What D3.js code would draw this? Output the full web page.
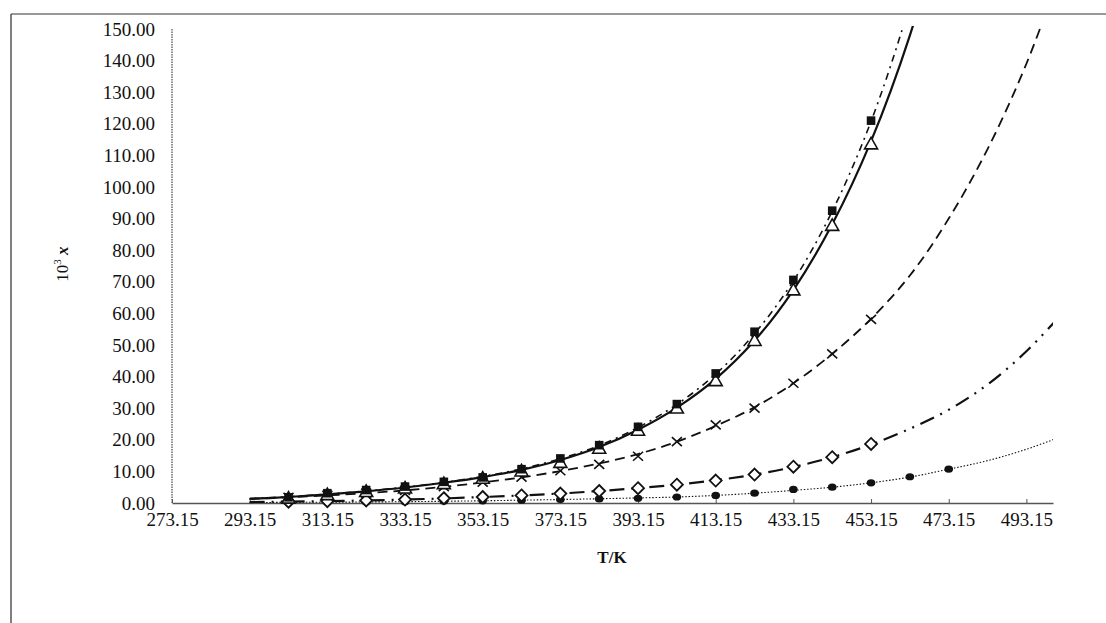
<!DOCTYPE html>
<html><head><meta charset="utf-8">
<script src="https://cdn.jsdelivr.net/npm/d3@7"></script>
<style>body{margin:0;background:#fff}svg{display:block}text{font-family:"Liberation Serif","Times New Roman",serif;fill:#111}</style>
</head><body><svg id="c" width="1106" height="623"></svg>
<script>
// ---- data ----
const xTicks = [273.15,293.15,313.15,333.15,353.15,373.15,393.15,413.15,433.15,453.15,473.15,493.15];
const yTicks = [0,10,20,30,40,50,60,70,80,90,100,110,120,130,140,150];

const markerT = [303.15,313.15,323.15,333.15,343.15,353.15,363.15,373.15,383.15,393.15,403.15,413.15,423.15,433.15,443.15,453.15];
const squares   = [1.8,3.1,4.1,5.2,6.7,8.1,10.7,14.1,18.3,24.1,31.3,41.0,54.2,70.6,92.5,121.0];
const triangles = [1.7,2.8,3.8,4.9,6.3,8.0,10.3,13.0,17.5,23.2,30.2,38.9,51.6,67.6,88.0,113.8];
const crosses   = [1.8,2.4,3.1,4.0,5.2,6.6,8.2,10.2,12.2,14.8,19.4,24.7,30.0,37.9,47.2,58.1];
const diamonds  = [0.4,0.6,0.8,1.1,1.5,1.9,2.4,3.0,3.8,4.7,5.8,7.1,9.0,11.5,14.5,18.7];
const circleT   = [303.15,313.15,323.15,333.15,343.15,353.15,363.15,373.15,383.15,393.15,403.15,413.15,423.15,433.15,443.15,453.15,463.15,473.15];
const circles   = [0.2,0.25,0.3,0.4,0.55,0.7,0.9,1.1,1.3,1.5,1.9,2.4,3.1,4.3,5.0,6.4,8.3,10.7];

const curveT = [293.15,303.15,313.15,323.15,333.15,343.15,353.15,363.15,373.15,383.15,393.15,403.15,413.15,423.15,433.15,443.15,453.15,463.15,473.15,483.15,493.15,503.15];
const solidFit   = [1.3,1.9,2.7,3.7,4.9,6.4,8.2,10.5,13.6,17.7,23.2,30.2,39.3,51.4,67.4,88.2,114.5,148,191];
const dashDotFit = [1.4,2.0,2.8,3.8,5.0,6.5,8.4,10.8,14.0,18.2,23.9,31.2,40.8,53.6,70.3,92.3,120.8,158,206];
const dashedFit  = [1.3,1.8,2.4,3.1,4.0,5.1,6.5,8.1,10.1,12.5,15.5,19.4,24.4,30.3,37.9,47.2,58.3,72,90,112,139,172];
const longDashFit= [0.3,0.45,0.6,0.8,1.1,1.45,1.9,2.4,3.0,3.8,4.7,5.8,7.2,9.0,11.4,14.5,18.5,23.5,29.5,37.5,48,61];
const dottedFit  = [0.15,0.2,0.25,0.32,0.42,0.55,0.7,0.9,1.1,1.35,1.6,1.9,2.4,3.1,4.0,5.0,6.4,8.2,10.7,13.4,17.0,21.5];

// ---- drawing ----
const svg = d3.select("#c");
const x = d3.scaleLinear().domain([273.15, 500]).range([172, 1053]);
const y = d3.scaleLinear().domain([0, 150]).range([503, 29]);

// outer scan frame
svg.append("line").attr("x1",11).attr("x2",1106).attr("y1",14).attr("y2",14).attr("stroke","#777").attr("stroke-width",1.5);
svg.append("line").attr("x1",11).attr("x2",11).attr("y1",14).attr("y2",623).attr("stroke","#555").attr("stroke-width",1.5);

svg.append("defs").append("clipPath").attr("id","clip").append("rect")
  .attr("x",172).attr("y",26).attr("width",881).attr("height",478);

// y axis (dotted line, labels only)
svg.append("line").attr("x1",172).attr("x2",172).attr("y1",y(150)).attr("y2",y(0))
  .attr("stroke","#444").attr("stroke-width",1.2).attr("stroke-dasharray","1.5,1");
const yAx = svg.append("g").attr("transform","translate(172,0)")
  .call(d3.axisLeft(y).tickValues(yTicks).tickFormat(d3.format(".2f")).tickSize(0).tickPadding(17));
yAx.select(".domain").remove();
yAx.selectAll("text").style("font-size","19px").style("font-family","'Liberation Serif',serif").attr("fill","#111");

// x axis
const xAx = svg.append("g").attr("transform","translate(0,503)")
  .call(d3.axisBottom(x).tickValues(xTicks).tickFormat(d=>d.toFixed(2)).tickSizeInner(-4).tickSizeOuter(0).tickPadding(10));
xAx.select(".domain").attr("stroke","#555").attr("stroke-width",1.3);
xAx.selectAll(".tick line").attr("stroke","#555");
xAx.selectAll("text").style("font-size","19px").style("font-family","'Liberation Serif',serif").attr("fill","#111");

// titles
const yt = svg.append("text").attr("transform","translate(68,264) rotate(-90)").attr("text-anchor","middle").style("font-size","17px");
yt.append("tspan").text("10");
yt.append("tspan").attr("dy",-7).style("font-size","11px").text("3");
yt.append("tspan").attr("dy",7).style("font-weight","bold").style("font-style","italic").text(" x");
svg.append("text").attr("x",612).attr("y",563).attr("text-anchor","middle").style("font-size","17px").style("font-weight","bold").text("T/K");

// curves
const g = svg.append("g").attr("clip-path","url(#clip)");
const line = d3.line().x(d=>x(d[0])).y(d=>y(d[1])).curve(d3.curveCatmullRom.alpha(0.5));
function fit(vals, dash, w){
  g.append("path").datum(vals.map((v,i)=>[curveT[i],v])).attr("d",line)
    .attr("fill","none").attr("stroke","#111").attr("stroke-width",w)
    .attr("stroke-dasharray",dash);
}
fit(dottedFit,"1.5,1.8",1.1);
fit(longDashFit,"15,7,2,7,2,7",2.2);
fit(dashedFit,"10,6",1.8);
fit(dashDotFit,"7,5,2,5",1.6);
fit(solidFit,null,2.2);

// markers
const m = svg.append("g");
m.selectAll(".ci").data(circles).join("ellipse")
  .attr("cx",(d,i)=>x(circleT[i])).attr("cy",d=>y(d)).attr("rx",4.3).attr("ry",3.6).attr("fill","#111");
m.selectAll(".di").data(diamonds).join("path")
  .attr("transform",(d,i)=>`translate(${x(markerT[i])},${y(d)})`)
  .attr("d","M0,-6L6,0L0,6L-6,0Z").attr("fill","#fff").attr("stroke","#111").attr("stroke-width",1.8);
m.selectAll(".cr").data(crosses).join("path")
  .attr("transform",(d,i)=>`translate(${x(markerT[i])},${y(d)})`)
  .attr("d","M-5,-4.5L5,4.5M-5,4.5L5,-4.5").attr("fill","none").attr("stroke","#111").attr("stroke-width",1.6);
m.selectAll(".tr").data(triangles).join("path")
  .attr("transform",(d,i)=>`translate(${x(markerT[i])},${y(d)})`)
  .attr("d","M0,-6L6.5,5.5L-6.5,5.5Z").attr("fill","#fff").attr("stroke","#111").attr("stroke-width",1.6);
m.selectAll(".sq").data(squares).join("rect")
  .attr("x",(d,i)=>x(markerT[i])-4.3).attr("y",d=>y(d)-4.3).attr("width",8.6).attr("height",8.6).attr("fill","#111");
</script></body></html>
